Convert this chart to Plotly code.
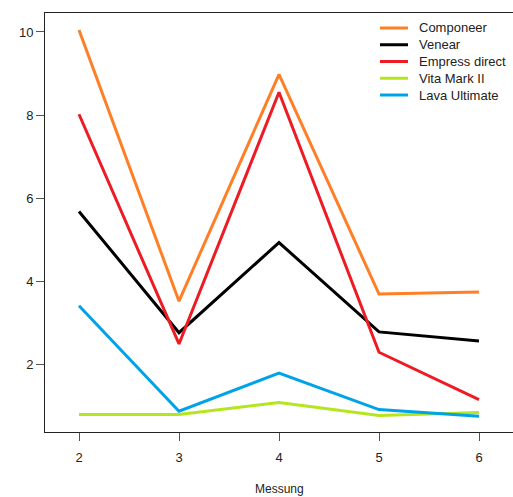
import plotly.graph_objects as go

messung = [2, 3, 4, 5, 6]
componeer = [10.05, 3.52, 8.98, 3.69, 3.74]
venear = [5.68, 2.76, 4.93, 2.78, 2.56]
empress_direct = [8.02, 2.49, 8.55, 2.29, 1.15]
vita_mark_ii = [0.79, 0.79, 1.08, 0.77, 0.84]
lava_ultimate = [3.41, 0.87, 1.79, 0.91, 0.75]
y_ticks = [2, 4, 6, 8, 10]

series = [
    ("Componeer", componeer, "#FF7F27"),
    ("Venear", venear, "#000000"),
    ("Empress direct", empress_direct, "#ED1C24"),
    ("Vita Mark II", vita_mark_ii, "#B5E61D"),
    ("Lava Ultimate", lava_ultimate, "#00A2E8"),
]

font = "Liberation Sans, Arial, sans-serif"

W, H = 513, 497
ml, mr, mt, mb = 45, 0, 13, 65
pw, ph = W - ml - mr, H - mt - mb

def px_to_paper_x(px):
    return (px - ml) / pw

def px_to_paper_y(py):
    return 1 - (py - mt) / ph

fig = go.Figure()
for i, (name, vals, col) in enumerate(series):
    fig.add_trace(go.Scatter(x=messung, y=vals, mode="lines", name=name,
                             line=dict(color=col, width=3), showlegend=False))
    yy = px_to_paper_y(28 + i * 16.75)
    fig.add_shape(type="line", xref="paper", yref="paper",
                  x0=px_to_paper_x(380), x1=px_to_paper_x(408), y0=yy, y1=yy,
                  line=dict(color=col, width=3))
    fig.add_annotation(xref="paper", yref="paper", x=px_to_paper_x(417), y=yy,
                       text=name, showarrow=False, xanchor="left", yanchor="middle",
                       font=dict(size=13, family=font, color="#222"))

fig.add_annotation(xref="paper", yref="paper", x=px_to_paper_x(279), y=px_to_paper_y(489),
                   text="Messung", showarrow=False, xanchor="center", yanchor="middle",
                   font=dict(size=12, family=font, color="#222"))

fig.update_layout(
    width=W, height=H,
    margin=dict(l=ml, r=mr, t=mt, b=mb),
    paper_bgcolor="white", plot_bgcolor="white",
    font=dict(family=font, size=13, color="#222"),
    xaxis=dict(range=[1.66, 6.34], tickvals=messung, showgrid=False, zeroline=False,
               showline=True, linecolor="#222", linewidth=1, mirror=True,
               ticks="outside", ticklen=8, tickcolor="#555", ticklabelstandoff=5),
    yaxis=dict(range=[0.37, 10.457], tickvals=y_ticks, showgrid=False, zeroline=False,
               showline=True, linecolor="#222", linewidth=1, mirror=False,
               ticks="outside", ticklen=8, tickcolor="#555"),
)
fig.write_html("out.html", config={"displayModeBar": False},
               post_script="document.body.style.margin='0';document.body.style.overflow='hidden';")
